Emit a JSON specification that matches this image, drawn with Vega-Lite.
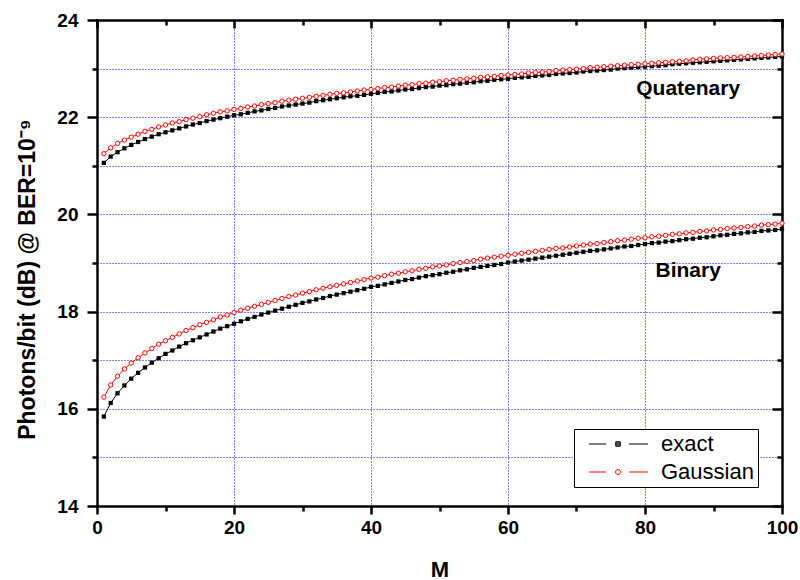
{
  "$schema": "https://vega.github.io/schema/vega-lite/v6.json",
  "width": 685,
  "height": 486,
  "autosize": "none",
  "padding": {"left": 97, "top": 20, "right": 18, "bottom": 74},
  "background": "white",
  "config": {"view": {"stroke": null}, "font": "Liberation Sans"},
  "data": {"values": [
    {"M":1,"curve":"Binary","exact":15.84,"Gaussian":16.24},{"M":1,"curve":"Quaternary","exact":21.06,"Gaussian":21.25},
    {"M":2,"curve":"Binary","exact":16.12,"Gaussian":16.49},{"M":2,"curve":"Quaternary","exact":21.19,"Gaussian":21.37},
    {"M":3,"curve":"Binary","exact":16.32,"Gaussian":16.67},{"M":3,"curve":"Quaternary","exact":21.28,"Gaussian":21.46},
    {"M":4,"curve":"Binary","exact":16.48,"Gaussian":16.82},{"M":4,"curve":"Quaternary","exact":21.36,"Gaussian":21.53},
    {"M":5,"curve":"Binary","exact":16.62,"Gaussian":16.94},{"M":5,"curve":"Quaternary","exact":21.43,"Gaussian":21.59},
    {"M":6,"curve":"Binary","exact":16.74,"Gaussian":17.05},{"M":6,"curve":"Quaternary","exact":21.49,"Gaussian":21.65},
    {"M":7,"curve":"Binary","exact":16.85,"Gaussian":17.15},{"M":7,"curve":"Quaternary","exact":21.55,"Gaussian":21.71},
    {"M":8,"curve":"Binary","exact":16.95,"Gaussian":17.24},{"M":8,"curve":"Quaternary","exact":21.60,"Gaussian":21.75},
    {"M":9,"curve":"Binary","exact":17.04,"Gaussian":17.33},{"M":9,"curve":"Quaternary","exact":21.65,"Gaussian":21.80},
    {"M":10,"curve":"Binary","exact":17.13,"Gaussian":17.40},{"M":10,"curve":"Quaternary","exact":21.69,"Gaussian":21.84},
    {"M":11,"curve":"Binary","exact":17.20,"Gaussian":17.47},{"M":11,"curve":"Quaternary","exact":21.73,"Gaussian":21.88},
    {"M":12,"curve":"Binary","exact":17.28,"Gaussian":17.54},{"M":12,"curve":"Quaternary","exact":21.77,"Gaussian":21.91},
    {"M":13,"curve":"Binary","exact":17.35,"Gaussian":17.61},{"M":13,"curve":"Quaternary","exact":21.81,"Gaussian":21.95},
    {"M":14,"curve":"Binary","exact":17.41,"Gaussian":17.67},{"M":14,"curve":"Quaternary","exact":21.85,"Gaussian":21.98},
    {"M":15,"curve":"Binary","exact":17.47,"Gaussian":17.73},{"M":15,"curve":"Quaternary","exact":21.88,"Gaussian":22.01},
    {"M":16,"curve":"Binary","exact":17.53,"Gaussian":17.78},{"M":16,"curve":"Quaternary","exact":21.92,"Gaussian":22.05},
    {"M":17,"curve":"Binary","exact":17.59,"Gaussian":17.83},{"M":17,"curve":"Quaternary","exact":21.95,"Gaussian":22.08},
    {"M":18,"curve":"Binary","exact":17.65,"Gaussian":17.89},{"M":18,"curve":"Quaternary","exact":21.98,"Gaussian":22.11},
    {"M":19,"curve":"Binary","exact":17.70,"Gaussian":17.93},{"M":19,"curve":"Quaternary","exact":22.01,"Gaussian":22.13},
    {"M":20,"curve":"Binary","exact":17.75,"Gaussian":17.98},{"M":20,"curve":"Quaternary","exact":22.04,"Gaussian":22.16},
    {"M":21,"curve":"Binary","exact":17.80,"Gaussian":18.03},{"M":21,"curve":"Quaternary","exact":22.06,"Gaussian":22.18},
    {"M":22,"curve":"Binary","exact":17.85,"Gaussian":18.07},{"M":22,"curve":"Quaternary","exact":22.09,"Gaussian":22.21},
    {"M":23,"curve":"Binary","exact":17.89,"Gaussian":18.11},{"M":23,"curve":"Quaternary","exact":22.12,"Gaussian":22.23},
    {"M":24,"curve":"Binary","exact":17.94,"Gaussian":18.15},{"M":24,"curve":"Quaternary","exact":22.14,"Gaussian":22.26},
    {"M":25,"curve":"Binary","exact":17.98,"Gaussian":18.19},{"M":25,"curve":"Quaternary","exact":22.17,"Gaussian":22.28},
    {"M":26,"curve":"Binary","exact":18.02,"Gaussian":18.23},{"M":26,"curve":"Quaternary","exact":22.19,"Gaussian":22.30},
    {"M":27,"curve":"Binary","exact":18.06,"Gaussian":18.27},{"M":27,"curve":"Quaternary","exact":22.22,"Gaussian":22.33},
    {"M":28,"curve":"Binary","exact":18.10,"Gaussian":18.31},{"M":28,"curve":"Quaternary","exact":22.24,"Gaussian":22.35},
    {"M":29,"curve":"Binary","exact":18.14,"Gaussian":18.34},{"M":29,"curve":"Quaternary","exact":22.26,"Gaussian":22.37},
    {"M":30,"curve":"Binary","exact":18.18,"Gaussian":18.38},{"M":30,"curve":"Quaternary","exact":22.28,"Gaussian":22.39},
    {"M":31,"curve":"Binary","exact":18.21,"Gaussian":18.41},{"M":31,"curve":"Quaternary","exact":22.30,"Gaussian":22.41},
    {"M":32,"curve":"Binary","exact":18.25,"Gaussian":18.45},{"M":32,"curve":"Quaternary","exact":22.33,"Gaussian":22.43},
    {"M":33,"curve":"Binary","exact":18.28,"Gaussian":18.48},{"M":33,"curve":"Quaternary","exact":22.35,"Gaussian":22.45},
    {"M":34,"curve":"Binary","exact":18.32,"Gaussian":18.51},{"M":34,"curve":"Quaternary","exact":22.37,"Gaussian":22.47},
    {"M":35,"curve":"Binary","exact":18.35,"Gaussian":18.54},{"M":35,"curve":"Quaternary","exact":22.39,"Gaussian":22.49},
    {"M":36,"curve":"Binary","exact":18.38,"Gaussian":18.57},{"M":36,"curve":"Quaternary","exact":22.41,"Gaussian":22.50},
    {"M":37,"curve":"Binary","exact":18.41,"Gaussian":18.60},{"M":37,"curve":"Quaternary","exact":22.43,"Gaussian":22.52},
    {"M":38,"curve":"Binary","exact":18.44,"Gaussian":18.63},{"M":38,"curve":"Quaternary","exact":22.44,"Gaussian":22.54},
    {"M":39,"curve":"Binary","exact":18.47,"Gaussian":18.66},{"M":39,"curve":"Quaternary","exact":22.46,"Gaussian":22.56},
    {"M":40,"curve":"Binary","exact":18.51,"Gaussian":18.69},{"M":40,"curve":"Quaternary","exact":22.48,"Gaussian":22.57},
    {"M":41,"curve":"Binary","exact":18.53,"Gaussian":18.71},{"M":41,"curve":"Quaternary","exact":22.50,"Gaussian":22.59},
    {"M":42,"curve":"Binary","exact":18.56,"Gaussian":18.74},{"M":42,"curve":"Quaternary","exact":22.52,"Gaussian":22.61},
    {"M":43,"curve":"Binary","exact":18.59,"Gaussian":18.77},{"M":43,"curve":"Quaternary","exact":22.53,"Gaussian":22.62},
    {"M":44,"curve":"Binary","exact":18.62,"Gaussian":18.79},{"M":44,"curve":"Quaternary","exact":22.55,"Gaussian":22.64},
    {"M":45,"curve":"Binary","exact":18.65,"Gaussian":18.82},{"M":45,"curve":"Quaternary","exact":22.57,"Gaussian":22.66},
    {"M":46,"curve":"Binary","exact":18.67,"Gaussian":18.84},{"M":46,"curve":"Quaternary","exact":22.58,"Gaussian":22.67},
    {"M":47,"curve":"Binary","exact":18.70,"Gaussian":18.87},{"M":47,"curve":"Quaternary","exact":22.60,"Gaussian":22.69},
    {"M":48,"curve":"Binary","exact":18.73,"Gaussian":18.89},{"M":48,"curve":"Quaternary","exact":22.62,"Gaussian":22.70},
    {"M":49,"curve":"Binary","exact":18.75,"Gaussian":18.92},{"M":49,"curve":"Quaternary","exact":22.63,"Gaussian":22.72},
    {"M":50,"curve":"Binary","exact":18.77,"Gaussian":18.94},{"M":50,"curve":"Quaternary","exact":22.65,"Gaussian":22.73},
    {"M":51,"curve":"Binary","exact":18.80,"Gaussian":18.96},{"M":51,"curve":"Quaternary","exact":22.66,"Gaussian":22.75},
    {"M":52,"curve":"Binary","exact":18.82,"Gaussian":18.99},{"M":52,"curve":"Quaternary","exact":22.68,"Gaussian":22.76},
    {"M":53,"curve":"Binary","exact":18.85,"Gaussian":19.01},{"M":53,"curve":"Quaternary","exact":22.69,"Gaussian":22.78},
    {"M":54,"curve":"Binary","exact":18.87,"Gaussian":19.03},{"M":54,"curve":"Quaternary","exact":22.71,"Gaussian":22.79},
    {"M":55,"curve":"Binary","exact":18.90,"Gaussian":19.05},{"M":55,"curve":"Quaternary","exact":22.72,"Gaussian":22.80},
    {"M":56,"curve":"Binary","exact":18.92,"Gaussian":19.08},{"M":56,"curve":"Quaternary","exact":22.74,"Gaussian":22.82},
    {"M":57,"curve":"Binary","exact":18.94,"Gaussian":19.10},{"M":57,"curve":"Quaternary","exact":22.75,"Gaussian":22.83},
    {"M":58,"curve":"Binary","exact":18.96,"Gaussian":19.12},{"M":58,"curve":"Quaternary","exact":22.77,"Gaussian":22.84},
    {"M":59,"curve":"Binary","exact":18.98,"Gaussian":19.14},{"M":59,"curve":"Quaternary","exact":22.78,"Gaussian":22.86},
    {"M":60,"curve":"Binary","exact":19.01,"Gaussian":19.16},{"M":60,"curve":"Quaternary","exact":22.79,"Gaussian":22.87},
    {"M":61,"curve":"Binary","exact":19.03,"Gaussian":19.18},{"M":61,"curve":"Quaternary","exact":22.81,"Gaussian":22.88},
    {"M":62,"curve":"Binary","exact":19.05,"Gaussian":19.20},{"M":62,"curve":"Quaternary","exact":22.82,"Gaussian":22.89},
    {"M":63,"curve":"Binary","exact":19.07,"Gaussian":19.22},{"M":63,"curve":"Quaternary","exact":22.83,"Gaussian":22.91},
    {"M":64,"curve":"Binary","exact":19.09,"Gaussian":19.24},{"M":64,"curve":"Quaternary","exact":22.85,"Gaussian":22.92},
    {"M":65,"curve":"Binary","exact":19.11,"Gaussian":19.26},{"M":65,"curve":"Quaternary","exact":22.86,"Gaussian":22.93},
    {"M":66,"curve":"Binary","exact":19.13,"Gaussian":19.28},{"M":66,"curve":"Quaternary","exact":22.87,"Gaussian":22.94},
    {"M":67,"curve":"Binary","exact":19.15,"Gaussian":19.30},{"M":67,"curve":"Quaternary","exact":22.89,"Gaussian":22.96},
    {"M":68,"curve":"Binary","exact":19.17,"Gaussian":19.31},{"M":68,"curve":"Quaternary","exact":22.90,"Gaussian":22.97},
    {"M":69,"curve":"Binary","exact":19.19,"Gaussian":19.33},{"M":69,"curve":"Quaternary","exact":22.91,"Gaussian":22.98},
    {"M":70,"curve":"Binary","exact":19.21,"Gaussian":19.35},{"M":70,"curve":"Quaternary","exact":22.92,"Gaussian":22.99},
    {"M":71,"curve":"Binary","exact":19.23,"Gaussian":19.37},{"M":71,"curve":"Quaternary","exact":22.94,"Gaussian":23.00},
    {"M":72,"curve":"Binary","exact":19.25,"Gaussian":19.39},{"M":72,"curve":"Quaternary","exact":22.95,"Gaussian":23.02},
    {"M":73,"curve":"Binary","exact":19.26,"Gaussian":19.40},{"M":73,"curve":"Quaternary","exact":22.96,"Gaussian":23.03},
    {"M":74,"curve":"Binary","exact":19.28,"Gaussian":19.42},{"M":74,"curve":"Quaternary","exact":22.97,"Gaussian":23.04},
    {"M":75,"curve":"Binary","exact":19.30,"Gaussian":19.44},{"M":75,"curve":"Quaternary","exact":22.98,"Gaussian":23.05},
    {"M":76,"curve":"Binary","exact":19.32,"Gaussian":19.46},{"M":76,"curve":"Quaternary","exact":23.00,"Gaussian":23.06},
    {"M":77,"curve":"Binary","exact":19.34,"Gaussian":19.47},{"M":77,"curve":"Quaternary","exact":23.01,"Gaussian":23.07},
    {"M":78,"curve":"Binary","exact":19.35,"Gaussian":19.49},{"M":78,"curve":"Quaternary","exact":23.02,"Gaussian":23.08},
    {"M":79,"curve":"Binary","exact":19.37,"Gaussian":19.51},{"M":79,"curve":"Quaternary","exact":23.03,"Gaussian":23.09},
    {"M":80,"curve":"Binary","exact":19.39,"Gaussian":19.52},{"M":80,"curve":"Quaternary","exact":23.04,"Gaussian":23.10},
    {"M":81,"curve":"Binary","exact":19.41,"Gaussian":19.54},{"M":81,"curve":"Quaternary","exact":23.05,"Gaussian":23.11},
    {"M":82,"curve":"Binary","exact":19.42,"Gaussian":19.55},{"M":82,"curve":"Quaternary","exact":23.06,"Gaussian":23.12},
    {"M":83,"curve":"Binary","exact":19.44,"Gaussian":19.57},{"M":83,"curve":"Quaternary","exact":23.07,"Gaussian":23.13},
    {"M":84,"curve":"Binary","exact":19.45,"Gaussian":19.59},{"M":84,"curve":"Quaternary","exact":23.09,"Gaussian":23.14},
    {"M":85,"curve":"Binary","exact":19.47,"Gaussian":19.60},{"M":85,"curve":"Quaternary","exact":23.10,"Gaussian":23.15},
    {"M":86,"curve":"Binary","exact":19.49,"Gaussian":19.62},{"M":86,"curve":"Quaternary","exact":23.11,"Gaussian":23.16},
    {"M":87,"curve":"Binary","exact":19.50,"Gaussian":19.63},{"M":87,"curve":"Quaternary","exact":23.12,"Gaussian":23.18},
    {"M":88,"curve":"Binary","exact":19.52,"Gaussian":19.65},{"M":88,"curve":"Quaternary","exact":23.13,"Gaussian":23.19},
    {"M":89,"curve":"Binary","exact":19.53,"Gaussian":19.66},{"M":89,"curve":"Quaternary","exact":23.14,"Gaussian":23.20},
    {"M":90,"curve":"Binary","exact":19.55,"Gaussian":19.68},{"M":90,"curve":"Quaternary","exact":23.15,"Gaussian":23.21},
    {"M":91,"curve":"Binary","exact":19.57,"Gaussian":19.69},{"M":91,"curve":"Quaternary","exact":23.16,"Gaussian":23.22},
    {"M":92,"curve":"Binary","exact":19.58,"Gaussian":19.71},{"M":92,"curve":"Quaternary","exact":23.17,"Gaussian":23.225},
    {"M":93,"curve":"Binary","exact":19.60,"Gaussian":19.72},{"M":93,"curve":"Quaternary","exact":23.18,"Gaussian":23.23},
    {"M":94,"curve":"Binary","exact":19.61,"Gaussian":19.73},{"M":94,"curve":"Quaternary","exact":23.19,"Gaussian":23.24},
    {"M":95,"curve":"Binary","exact":19.63,"Gaussian":19.75},{"M":95,"curve":"Quaternary","exact":23.20,"Gaussian":23.25},
    {"M":96,"curve":"Binary","exact":19.64,"Gaussian":19.76},{"M":96,"curve":"Quaternary","exact":23.21,"Gaussian":23.26},
    {"M":97,"curve":"Binary","exact":19.66,"Gaussian":19.78},{"M":97,"curve":"Quaternary","exact":23.22,"Gaussian":23.27},
    {"M":98,"curve":"Binary","exact":19.67,"Gaussian":19.79},{"M":98,"curve":"Quaternary","exact":23.23,"Gaussian":23.28},
    {"M":99,"curve":"Binary","exact":19.68,"Gaussian":19.80},{"M":99,"curve":"Quaternary","exact":23.24,"Gaussian":23.29},
    {"M":100,"curve":"Binary","exact":19.70,"Gaussian":19.82},{"M":100,"curve":"Quaternary","exact":23.25,"Gaussian":23.30}
  ]},
  "resolve": {"axis": {"x": "independent", "y": "independent"}},
  "layer": [
    {
      "transform": [{"fold": ["exact", "Gaussian"], "as": ["model", "value"]}, {"filter": "datum.model === 'exact'"}],
      "mark": {"type": "line", "color": "black", "strokeWidth": 1},
      "encoding": {
        "x": {"field": "M", "type": "quantitative", "scale": {"domain": [0, 100], "nice": false},
          "axis": {"orient": "bottom", "values": [0,10,20,30,40,50,60,70,80,90,100],
            "labelExpr": "datum.value % 20 === 0 ? datum.label : ''",
            "title": "M", "titleFontSize": 22, "titleFontWeight": "bold", "titleColor": "black", "titleFont": "Liberation Sans",
            "titleBaseline": "alphabetic", "titleY": 70,
            "labelFontSize": 19, "labelFontWeight": "bold", "labelColor": "black", "labelFont": "Liberation Sans",
            "labelPadding": 4, "labelFlush": false, "labelOverlap": false,
            "domainColor": "black", "domainWidth": 2.5, "domainCap": "square",
            "tickColor": "black", "tickWidth": 2.5,
            "tickSize": {"condition": {"test": "datum.value % 20 === 0", "value": 8}, "value": 5},
            "grid": true, "gridColor": "#0000ff", "gridDash": [1, 2], "gridWidth": 1,
            "gridOpacity": {"condition": {"test": "datum.value % 20 === 0 && datum.value > 0 && datum.value < 100", "value": 1}, "value": 0}}},
        "y": {"field": "value", "type": "quantitative", "scale": {"domain": [14, 24], "nice": false, "zero": false},
          "axis": {"orient": "left", "values": [14,15,16,17,18,19,20,21,22,23,24],
            "labelExpr": "datum.value % 2 === 0 ? datum.label : ''",
            "title": "Photons/bit (dB) @ BER=10⁻⁹", "titleFontSize": 23, "titleFontWeight": "bold", "titleColor": "black", "titleFont": "Liberation Sans",
            "titleBaseline": "alphabetic", "titleAlign": "center", "titleAngle": 270, "titleX": -63, "titleY": 259,
            "labelFontSize": 19, "labelFontWeight": "bold", "labelColor": "black", "labelFont": "Liberation Sans",
            "labelPadding": 9, "labelFlush": false, "labelOverlap": false,
            "domainColor": "black", "domainWidth": 2.5, "domainCap": "square",
            "tickColor": "black", "tickWidth": 2.5,
            "tickSize": {"condition": {"test": "datum.value % 2 === 0", "value": 10}, "value": 5},
            "grid": true, "gridColor": "#0000ff", "gridDash": [1, 2], "gridWidth": 1,
            "gridOpacity": {"condition": {"test": "datum.value > 14 && datum.value < 24", "value": 1}, "value": 0}}},
        "detail": {"field": "curve"}
      }
    },
    {
      "transform": [{"fold": ["exact", "Gaussian"], "as": ["model", "value"]}, {"filter": "datum.model === 'exact'"}],
      "mark": {"type": "point", "shape": "square", "filled": true, "color": "black", "size": 18, "opacity": 1},
      "encoding": {
        "x": {"field": "M", "type": "quantitative",
          "axis": {"orient": "top", "values": [0,10,20,30,40,50,60,70,80,90,100], "labels": false, "title": null, "grid": false,
            "domainColor": "black", "domainWidth": 2.5, "domainCap": "square",
            "tickColor": "black", "tickWidth": 2.5,
            "tickSize": {"condition": {"test": "datum.value % 20 === 0", "value": -8}, "value": -5}}},
        "y": {"field": "value", "type": "quantitative",
          "axis": {"orient": "right", "values": [14,15,16,17,18,19,20,21,22,23,24], "labels": false, "title": null, "grid": false,
            "domainColor": "black", "domainWidth": 2.5, "domainCap": "square",
            "tickColor": "black", "tickWidth": 2.5,
            "tickSize": {"condition": {"test": "datum.value % 2 === 0", "value": -10}, "value": -5}}}
      }
    },
    {
      "transform": [{"fold": ["exact", "Gaussian"], "as": ["model", "value"]}, {"filter": "datum.model === 'Gaussian'"}],
      "mark": {"type": "line", "color": "red", "strokeWidth": 1},
      "encoding": {
        "x": {"field": "M", "type": "quantitative", "axis": null},
        "y": {"field": "value", "type": "quantitative", "axis": null},
        "detail": {"field": "curve"}
      }
    },
    {
      "transform": [{"fold": ["exact", "Gaussian"], "as": ["model", "value"]}, {"filter": "datum.model === 'Gaussian'"}],
      "mark": {"type": "point", "shape": "circle", "filled": false, "fill": "white", "stroke": "red", "strokeWidth": 1, "size": 19, "opacity": 1},
      "encoding": {
        "x": {"field": "M", "type": "quantitative", "axis": null},
        "y": {"field": "value", "type": "quantitative", "axis": null}
      }
    },
    {
      "transform": [{"fold": ["exact", "Gaussian"], "as": ["model", "value"]}, {"filter": "datum.M === 1 && datum.curve === 'Binary'"}],
      "mark": {"type": "point", "filled": false, "opacity": 0, "strokeWidth": 1},
      "encoding": {
        "x": {"field": "M", "type": "quantitative", "axis": null},
        "y": {"field": "value", "type": "quantitative", "axis": null},
        "color": {"field": "model", "type": "nominal",
          "scale": {"domain": ["exact", "Gaussian"], "range": ["black", "red"]},
          "legend": {"title": null, "orient": "none", "legendX": 477, "legendY": 409,
            "symbolSize": 100, "symbolStrokeWidth": 1, "symbolOpacity": 1, "symbolOffset": 29,
            "labelOffset": 32, "labelFontSize": 22, "labelFont": "Liberation Sans", "labelColor": "black",
            "padding": 4, "rowPadding": 6, "strokeColor": "black", "fillColor": "white",
            "encode": {"labels": {"update": {"fill": {"signal": "datum.value === 'Gaussian' ? '#ff0000' : '#000000'"}}}}}},
        "shape": {"field": "model", "type": "nominal",
          "scale": {"domain": ["exact", "Gaussian"], "range": [
            "M-5.8,0H-2.4M2.2,0H6M-0.45,-0.45H0.45V0.45H-0.45ZM-0.45,-0.22H0.45M-0.45,0H0.45M-0.45,0.22H0.45",
            "M-5.8,0H-2.4M2.2,0H6M-0.5,0A0.5,0.5 0 1,0 0.5,0A0.5,0.5 0 1,0 -0.5,0"]},
          "legend": {"title": null, "orient": "none", "legendX": 477, "legendY": 409,
            "symbolSize": 100, "symbolStrokeWidth": 1, "symbolOpacity": 1, "symbolOffset": 29,
            "labelOffset": 32, "labelFontSize": 22, "labelFont": "Liberation Sans", "labelColor": "black",
            "padding": 4, "rowPadding": 6, "strokeColor": "black", "fillColor": "white",
            "encode": {"labels": {"update": {"fill": {"signal": "datum.value === 'Gaussian' ? '#ff0000' : '#000000'"}}}}}}
      }
    },
    {
      "data": {"values": [
        {"M": 86.3, "value": 22.46, "label": "Quatenary"},
        {"M": 86.3, "value": 18.71, "label": "Binary"}
      ]},
      "mark": {"type": "text", "fontSize": 21, "fontWeight": "bold", "font": "Liberation Sans", "color": "black", "baseline": "alphabetic", "align": "center"},
      "encoding": {
        "x": {"field": "M", "type": "quantitative", "axis": null},
        "y": {"field": "value", "type": "quantitative", "axis": null},
        "text": {"field": "label"}
      }
    }
  ]
}
